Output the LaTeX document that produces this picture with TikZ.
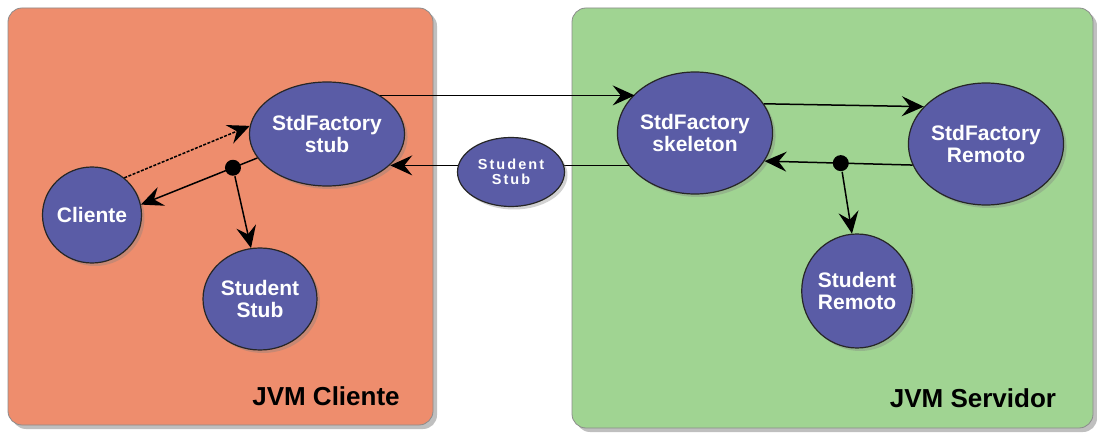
\documentclass[tikz,border=0pt]{standalone}
\usepackage{fontspec}
\setmainfont{Liberation Sans}
\usetikzlibrary{shapes.geometric,shadows,arrows.meta}
\definecolor{salmon}{HTML}{EE8D6D}
\definecolor{mint}{HTML}{A0D492}
\definecolor{ballc}{HTML}{5A5CA6}
\tikzset{
  box/.style={rectangle, rounded corners=14pt, draw=black!45, line width=0.8pt,
    drop shadow={opacity=0.5, shadow xshift=4pt, shadow yshift=-4pt}},
  ball/.style={ellipse, draw=black!85, line width=1.2pt, fill=ballc, text=white,
    font=\bfseries\fontsize{21}{22}\selectfont, align=center, inner sep=0pt,
    drop shadow={opacity=0.35, shadow xshift=3pt, shadow yshift=-3pt}},
  small/.style={ball, font=\bfseries\fontsize{14.5}{15}\selectfont\addfontfeature{LetterSpace=14}},
  lab/.style={font=\bfseries\fontsize{26}{28}\selectfont, text=black},
  arr/.style={draw=black, line width=1.5pt, -{Stealth[length=22pt,width=20pt,inset=8pt]}},
  dot/.style={circle, fill=black, inner sep=0pt, minimum size=16pt},
}
\begin{document}
\begin{tikzpicture}[x=1pt,y=-1pt]
\useasboundingbox[fill=white] (0,0) rectangle (1097,435);
% containers
\node[box, fill=salmon, minimum width=425pt, minimum height=417pt] (cbox) at (220.5,216.5) {};
\node[box, fill=mint, minimum width=521pt, minimum height=420pt] (sbox) at (832.5,218) {};
\node[lab] (jc) at (326,396) {JVM Cliente};
\node[lab] (js) at (973,398) {JVM Servidor};
% nodes
\node[ball, minimum width=124pt, minimum height=104pt] (stub) at (327,134) {StdFactory\\stub};
\node[ball, minimum width=96pt, minimum height=96pt] (cli) at (92,215) {Cliente};
\node[ball, minimum width=114pt, minimum height=102pt] (sstub) at (260,299) {Student\\Stub};
\node[ball, minimum width=122pt, minimum height=122pt] (skel) at (695,133) {StdFactory\\skeleton};
\node[ball, minimum width=124pt, minimum height=122pt] (rem) at (986,144) {StdFactory\\Remoto};
\node[ball, minimum width=110pt, minimum height=114pt] (srem) at (857,291) {Student\\Remoto};
% connectors
\draw[arr] (stub.36) -- (skel.147 |- stub.36);
\draw[arr] (skel.206) -- (stub.334 |- skel.206);
\node[small, minimum width=107pt, minimum height=69pt] (mid) at (511,172) {Student\\Stub};
\draw[arr, dash pattern=on 3pt off 1.5pt] (cli.49) -- (stub.174);
\draw[arr] (stub.199) -- node[dot, pos=0.21] (dA) {} (cli.12);
\draw[arr] (dA) -- (sstub.100);
\draw[arr] (skel.23) -- (rem.149);
\draw[arr] (rem.196) -- node[dot, pos=0.485] (dB) {} (skel.338);
\draw[arr] (dB) -- (srem.95);
\end{tikzpicture}
\end{document}
